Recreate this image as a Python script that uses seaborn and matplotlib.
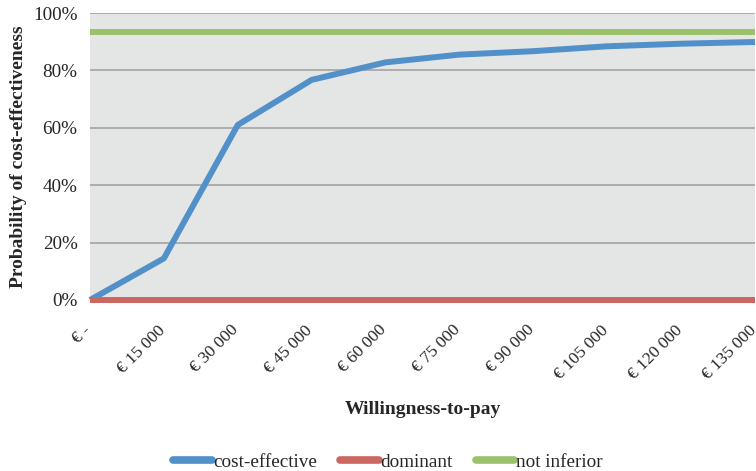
import matplotlib
matplotlib.use("Agg")
import matplotlib.pyplot as plt
import matplotlib.transforms as mtransforms
import seaborn as sns
import pandas as pd

# Willingness-to-pay thresholds (EUR) and probabilities (%)
wtp = [0, 15000, 30000, 45000, 60000, 75000, 90000, 105000, 120000, 135000]
wtp_labels = ["€ -", "€ 15 000", "€ 30 000", "€ 45 000", "€ 60 000", "€ 75 000",
              "€ 90 000", "€ 105 000", "€ 120 000", "€ 135 000"]
cost_effective = [0, 14.5, 61, 76.7, 82.8, 85.5, 86.7, 88.4, 89.3, 89.9]
dominant = [0, 0, 0, 0, 0, 0, 0, 0, 0, 0]
not_inferior = [93.3, 93.3, 93.3, 93.3, 93.3, 93.3, 93.3, 93.3, 93.3, 93.3]
series_names = ["cost-effective", "dominant", "not inferior"]
colors = ["#5290C9", "#CC6661", "#9CC16D"]

df = pd.concat([
    pd.DataFrame({"wtp": wtp, "prob": vals, "series": name})
    for name, vals in zip(series_names, [cost_effective, dominant, not_inferior])
])

sns.set_theme(style="white")
plt.rcParams["font.family"] = ["Liberation Serif", "DejaVu Serif"]

fig = plt.figure(figsize=(7.56, 4.71), dpi=100)
ax = fig.add_axes([90 / 756, 1 - 300 / 471, 665 / 756, 287 / 471])
ax.set_facecolor("#E4E6E5")

sns.lineplot(data=df, x="wtp", y="prob", hue="series", hue_order=series_names,
             palette=colors, linewidth=4.3, ax=ax, legend=True, sort=False)
for line in ax.get_lines():
    line.set_clip_on(False)
    line.set_solid_capstyle("butt")

ax.set_xlim(0, 135000)
ax.set_ylim(0, 100)
ax.set_yticks(range(0, 101, 20))
ax.set_yticklabels([f"{v}%" for v in range(0, 101, 20)], fontsize=13.8)
ax.set_xticks(wtp)
ax.set_xticklabels(wtp_labels, rotation=45, ha="right", va="top",
                   rotation_mode="anchor", fontsize=12.5)
ax.tick_params(axis="x", length=0, pad=16)
ax.tick_params(axis="y", length=0, pad=9)
shift = mtransforms.ScaledTranslation(-7 / 100, 0, fig.dpi_scale_trans)
for lab in ax.get_xticklabels():
    lab.set_transform(lab.get_transform() + shift)
ax.yaxis.grid(True, color="#A8A8A8", linewidth=1.3)
ax.set_axisbelow(True)
for s in ax.spines.values():
    s.set_visible(False)

ax.set_xlabel("Willingness-to-pay", fontsize=14, fontweight="bold", labelpad=13)
ax.set_ylabel("Probability of cost-effectiveness", fontsize=14, fontweight="bold", labelpad=4)

leg = ax.legend(loc="lower center", bbox_to_anchor=(388 / 756, -0.004),
                bbox_transform=fig.transFigure, ncol=3, frameon=False,
                fontsize=13.8, handlelength=2.0, handletextpad=0.1,
                columnspacing=1.2, borderaxespad=0.0, borderpad=0.1)
for line in leg.get_lines():
    line.set_linewidth(5.5)
    line.set_solid_capstyle("round")

fig.savefig("out.png", dpi=100)
